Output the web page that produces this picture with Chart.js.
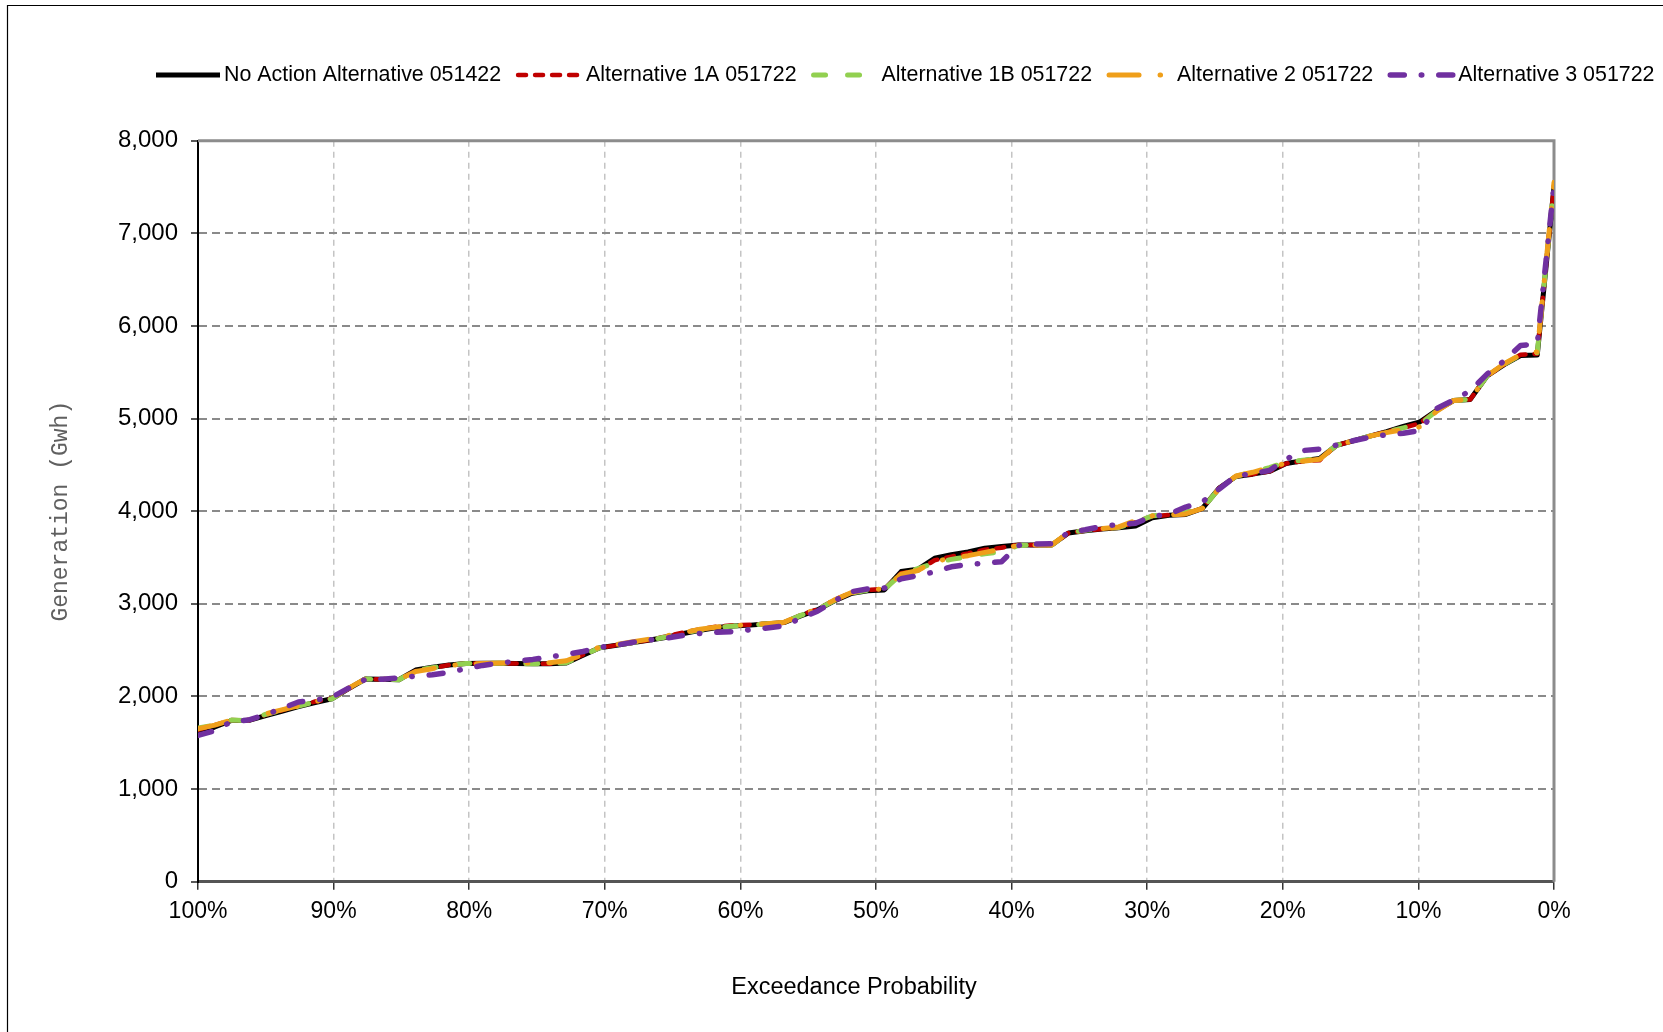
<!DOCTYPE html>
<html>
<head>
<meta charset="utf-8">
<title>Generation exceedance</title>
<script src="https://cdn.jsdelivr.net/npm/chart.js@4.4.1/dist/chart.umd.min.js"></script>
<style>
    html, body { margin: 0; padding: 0; background: #ffffff; }
    #chart { display: block; }
</style>
</head>
<body>
<canvas id="chart" width="1663" height="1032"></canvas>
<script>
// generation (GWh) sorted from driest to wettest year
const noAction = [1590, 1670, 1740, 1740, 1790, 1840, 1890, 1935, 1975, 2085,
    2188, 2185, 2180, 2285, 2315, 2340, 2355, 2358, 2358, 2355,
    2352, 2352, 2362, 2445, 2525, 2553, 2582, 2610, 2640, 2680,
    2715, 2745, 2760, 2770, 2785, 2797, 2870, 2935, 3030, 3110,
    3140, 3150, 3348, 3373, 3492, 3530, 3560, 3600, 3620, 3636,
    3636, 3636, 3765, 3790, 3808, 3822, 3840, 3930, 3955, 3965,
    4030, 4250, 4375, 4400, 4430, 4515, 4545, 4570, 4710, 4760,
    4810, 4858, 4915, 4965, 5090, 5195, 5207, 5460, 5580, 5680,
    5686, 7500];
const alt1A = [1640, 1690, 1745, 1740, 1800, 1850, 1900, 1945, 1980, 2085,
    2188, 2185, 2180, 2275, 2305, 2340, 2355, 2358, 2358, 2355,
    2352, 2352, 2370, 2450, 2525, 2553, 2582, 2610, 2650, 2690,
    2725, 2755, 2770, 2775, 2785, 2797, 2880, 2940, 3040, 3120,
    3150, 3160, 3330, 3360, 3470, 3510, 3545, 3585, 3605, 3636,
    3636, 3636, 3765, 3790, 3808, 3822, 3880, 3945, 3960, 3970,
    4030, 4250, 4375, 4400, 4430, 4515, 4540, 4550, 4710, 4760,
    4810, 4858, 4900, 4950, 5090, 5195, 5207, 5460, 5580, 5690,
    5700, 7520];
const alt1B = [1660, 1690, 1745, 1740, 1805, 1850, 1895, 1940, 1975, 2085,
    2188, 2185, 2180, 2280, 2310, 2340, 2355, 2358, 2358, 2355,
    2352, 2355, 2365, 2445, 2525, 2553, 2582, 2610, 2645, 2685,
    2720, 2745, 2760, 2770, 2785, 2797, 2875, 2940, 3035, 3115,
    3145, 3155, 3320, 3380, 3440, 3480, 3510, 3540, 3560, 3630,
    3636, 3636, 3765, 3795, 3810, 3825, 3880, 3950, 3965, 3990,
    4030, 4245, 4375, 4430, 4470, 4530, 4550, 4570, 4710, 4760,
    4810, 4858, 4900, 4940, 5085, 5195, 5207, 5460, 5585, 5685,
    5710, 7520];
const alt2 = [1650, 1690, 1745, 1745, 1810, 1855, 1900, 1945, 1980, 2090,
    2190, 2190, 2185, 2270, 2300, 2335, 2350, 2355, 2360, 2360,
    2360, 2365, 2385, 2455, 2535, 2560, 2590, 2620, 2655, 2690,
    2725, 2750, 2765, 2775, 2785, 2800, 2880, 2945, 3040, 3120,
    3155, 3160, 3320, 3360, 3460, 3490, 3520, 3555, 3590, 3632,
    3636, 3636, 3770, 3800, 3812, 3830, 3900, 3950, 3960, 3970,
    4030, 4245, 4380, 4420, 4470, 4520, 4540, 4560, 4710, 4760,
    4810, 4850, 4880, 4912, 5080, 5195, 5210, 5460, 5590, 5690,
    5720, 7550];
const alt3 = [1580, 1630, 1730, 1745, 1800, 1870, 1940, 1960, 1990, 2090,
    2185, 2185, 2200, 2220, 2235, 2260, 2300, 2335, 2360, 2380,
    2400, 2425, 2455, 2485, 2530, 2555, 2585, 2610, 2630, 2660,
    2680, 2692, 2700, 2720, 2740, 2760, 2845, 2920, 3030, 3130,
    3160, 3170, 3270, 3305, 3345, 3400, 3425, 3438, 3455, 3630,
    3645, 3650, 3770, 3800, 3835, 3858, 3870, 3945, 3966, 4045,
    4100, 4240, 4380, 4405, 4440, 4560, 4655, 4670, 4714, 4760,
    4800, 4825, 4842, 4870, 5110, 5200, 5300, 5480, 5620, 5790,
    5805, 7520];

const seriesNames = ['No Action Alternative 051422', 'Alternative 1A 051722', 'Alternative 1B 051722',
    'Alternative 2 051722', 'Alternative 3 051722'];
const yTicks = [0, 1000, 2000, 3000, 4000, 5000, 6000, 7000, 8000];
const xTicks = [0, 10, 20, 30, 40, 50, 60, 70, 80, 90, 100];
const xTitle = 'Exceedance Probability';
const yTitle = 'Generation (Gwh)';

// plotting position: rank 1 at 100% down to the wettest year at 0%
function toPoints(values) {
    return values.map((v, i) => ({ x: 100 - i * 100 / (values.length - 1), y: v }));
}

const sansFont = '"Liberation Sans", Arial, sans-serif';

const frameAndLegend = {
    id: 'frameAndLegend',
    beforeDatasetsDraw(chart) {
        const { ctx, chartArea } = chart;
        ctx.save();
        ctx.strokeStyle = '#8c8c8c';
        ctx.lineWidth = 3;
        ctx.beginPath();
        ctx.moveTo(chartArea.left, chartArea.top);
        ctx.lineTo(chartArea.right, chartArea.top);
        ctx.lineTo(chartArea.right, chartArea.bottom);
        ctx.stroke();
        ctx.restore();
    },
    afterDraw(chart) {
        const ctx = chart.ctx;
        ctx.save();

        // outer chart frame
        ctx.strokeStyle = '#000000';
        ctx.lineWidth = 1.2;
        ctx.beginPath();
        ctx.moveTo(7.5, 1100);
        ctx.lineTo(7.5, 5.5);
        ctx.lineTo(1700, 5.5);
        ctx.stroke();

        // legend
        let x = 156;
        const y = 75;
        ctx.font = '21.4px ' + sansFont;
        ctx.textBaseline = 'middle';
        ctx.textAlign = 'left';
        [...chart.data.datasets].sort((a, b) => a.legendIndex - b.legendIndex).forEach(ds => {
            ctx.beginPath();
            ctx.strokeStyle = ds.borderColor;
            ctx.lineWidth = ds.borderWidth;
            ctx.lineCap = ds.borderCapStyle || 'butt';
            ctx.setLineDash(ds.borderDash || []);
            ctx.moveTo(x, y);
            ctx.lineTo(x + 64, y);
            ctx.stroke();
            ctx.setLineDash([]);
            ctx.fillStyle = '#000000';
            ctx.fillText(ds.label, x + 68, y);
            x += 68 + ctx.measureText(ds.label).width + 17;
        });

        // x axis title
        ctx.font = '23.5px ' + sansFont;
        ctx.textAlign = 'center';
        ctx.fillText(xTitle, 854, 988);
        ctx.restore();
    }
};

const datasets = [
    { label: seriesNames[4], data: toPoints(alt3), borderColor: '#7030a0', borderWidth: 5.5,
      borderDash: [14, 17, 0.5, 17], borderCapStyle: 'round', order: 1, legendIndex: 4 },
    { label: seriesNames[3], data: toPoints(alt2), borderColor: '#ef9f1a', borderWidth: 5,
      borderDash: [30, 21, 0.5, 21], borderCapStyle: 'round', order: 2, legendIndex: 3 },
    { label: seriesNames[2], data: toPoints(alt1B), borderColor: '#92d050', borderWidth: 5,
      borderDash: [12, 22], borderCapStyle: 'round', order: 3, legendIndex: 2 },
    { label: seriesNames[1], data: toPoints(alt1A), borderColor: '#c00000', borderWidth: 4.5,
      borderDash: [8, 9], borderCapStyle: 'round', order: 4, legendIndex: 1 },
    { label: seriesNames[0], data: toPoints(noAction), borderColor: '#000000', borderWidth: 5,
      borderDash: [], borderCapStyle: 'butt', order: 5, legendIndex: 0 }
];
datasets.forEach(ds => {
    ds.pointRadius = 0;
    ds.pointHoverRadius = 0;
    ds.tension = 0;
    ds.fill = false;
    ds.borderJoinStyle = 'round';
});

new Chart(document.getElementById('chart'), {
    type: 'line',
    data: { datasets: datasets },
    plugins: [frameAndLegend],
    options: {
        responsive: false,
        animation: false,
        events: [],
        layout: { padding: { top: 140.7, right: 109, bottom: 0, left: 0 } },
        plugins: {
            legend: { display: false },
            tooltip: { enabled: false }
        },
        scales: {
            x: {
                type: 'linear',
                reverse: true,
                min: 0,
                max: 100,
                afterBuildTicks: scale => { scale.ticks = xTicks.map(v => ({ value: v })); },
                afterFit: scale => { scale.height = 150.3; },
                ticks: {
                    color: '#000000',
                    padding: 8,
                    maxRotation: 0,
                    font: { family: sansFont, size: 23 },
                    callback: value => value + '%'
                },
                grid: {
                    color: '#c4c4c4',
                    lineWidth: 1.5,
                    tickLength: 8,
                    tickColor: '#333333',
                    tickWidth: 1.5
                },
                border: { color: '#555555', width: 3, dash: [6, 5] }
            },
            y: {
                min: 0,
                max: 8000,
                afterBuildTicks: scale => { scale.ticks = yTicks.map(v => ({ value: v })); },
                afterFit: scale => { scale.width = 198; },
                ticks: {
                    color: '#000000',
                    padding: 13,
                    font: { family: sansFont, size: 24 },
                    callback: value => value.toLocaleString('en-US')
                },
                title: {
                    display: true,
                    text: yTitle,
                    color: '#606060',
                    padding: { top: 47, bottom: 0 },
                    font: { family: '"Liberation Mono", "Courier New", monospace', size: 23 }
                },
                grid: {
                    color: '#8a8a8a',
                    lineWidth: 2,
                    tickLength: 7,
                    tickColor: '#222222',
                    tickWidth: 1.5
                },
                border: { color: '#000000', width: 2, dash: [8, 5] }
            }
        }
    }
});
</script>
</body>
</html>
